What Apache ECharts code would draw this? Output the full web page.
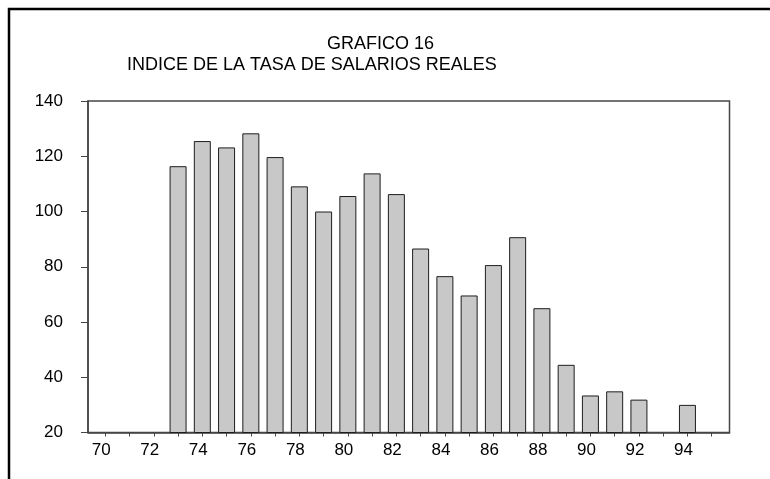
<!DOCTYPE html>
<html>
<head>
<meta charset="utf-8">
<script src="https://cdn.jsdelivr.net/npm/echarts@6/dist/echarts.min.js"></script>
<style>
    html, body { margin: 0; padding: 0; background: #fff; }
    .chart-container { width: 770px; height: 479px; }
</style>
</head>
<body>
<div class="chart-container" id="chart"></div>
<script>
const TITLE = 'GRAFICO 16'
const SUBTITLE = 'INDICE DE LA TASA DE SALARIOS REALES'
const YEARS = [70, 71, 72, 73, 74, 75, 76, 77, 78, 79, 80, 81, 82, 83, 84, 85, 86, 87, 88, 89, 90, 91, 92, 93, 94, 95]
const VALUES = [null, null, null, 116.4, 125.5, 123.2, 128.3, 119.7, 109.1, 100, 105.6, 113.8, 106.3, 86.6, 76.6, 69.6, 80.6, 90.7, 65, 44.5, 33.4, 34.9, 31.9, null, 30, null]
const X_LABELS = [70, 72, 74, 76, 78, 80, 82, 84, 86, 88, 90, 92, 94]
const Y_TICKS = [20, 40, 60, 80, 100, 120, 140]

const FONT = '"Liberation Sans", Arial, sans-serif'
const chart = echarts.init(document.getElementById('chart'))

chart.setOption({
    animation: false,
    textStyle: {
        fontFamily: FONT
    },
    title: [{
        text: TITLE,
        left: 322,
        top: 30,
        textStyle: {
            fontFamily: FONT,
            fontSize: 18,
            fontWeight: 'normal',
            color: '#000'
        }
    }, {
        text: SUBTITLE,
        left: 122,
        top: 51,
        textStyle: {
            fontFamily: FONT,
            fontSize: 18,
            fontWeight: 'normal',
            color: '#000'
        }
    }],
    graphic: [{
        type: 'polyline',
        shape: {
            points: [[9, 479], [9, 9], [770, 9]]
        },
        style: {
            stroke: '#000',
            lineWidth: 2.5,
            fill: null
        }
    }],
    grid: {
        left: 88,
        top: 101,
        width: 641.5,
        height: 331.5,
        show: true,
        borderColor: '#454545',
        borderWidth: 1.5
    },
    xAxis: {
        type: 'value',
        min: 69.287,
        max: 95.734,
        axisLine: {
            show: true,
            lineStyle: {
                color: '#454545',
                width: 1.5
            }
        },
        axisTick: {
            show: true,
            length: 4,
            customValues: YEARS,
            lineStyle: {
                color: '#454545'
            }
        },
        axisLabel: {
            customValues: X_LABELS,
            fontSize: 17,
            color: '#000',
            margin: 9,
            padding: [0, 8, 0, 0]
        },
        splitLine: {
            show: false
        }
    },
    yAxis: {
        type: 'value',
        min: 20,
        max: 140,
        interval: 20,
        axisLine: {
            show: true,
            lineStyle: {
                color: '#454545',
                width: 1.5
            }
        },
        axisTick: {
            show: true,
            length: 7,
            customValues: Y_TICKS,
            lineStyle: {
                color: '#454545'
            }
        },
        axisLabel: {
            customValues: Y_TICKS,
            fontSize: 17,
            color: '#000',
            margin: 25
        },
        splitLine: {
            show: false
        }
    },
    series: [{
        type: 'bar',
        barWidth: 17,
        clip: true,
        itemStyle: {
            color: '#c8c8c8',
            borderColor: '#1e1e1e',
            borderWidth: 1
        },
        data: YEARS.map((y, i) => [y, VALUES[i]])
    }]
})
</script>
</body>
</html>
